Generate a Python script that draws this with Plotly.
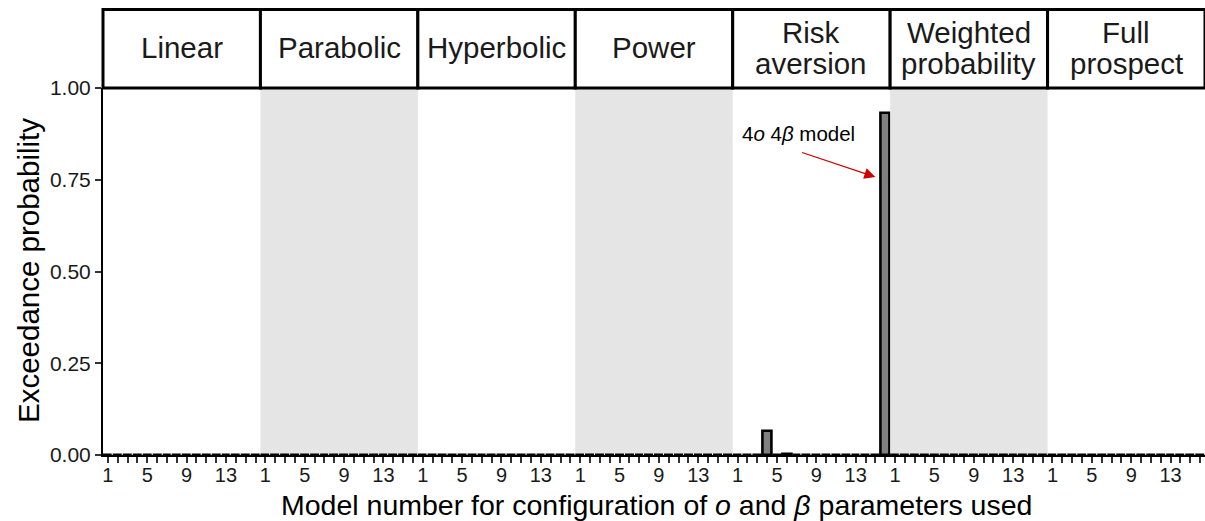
import plotly.graph_objects as go
from plotly.subplots import make_subplots

# Model families (facet panels) and the per-model exceedance probabilities
families = ["Linear", "Parabolic", "Hyperbolic", "Power", "Risk aversion",
            "Weighted probability", "Full prospect"]
strip_lines = [["Linear"], ["Parabolic"], ["Hyperbolic"], ["Power"],
               ["Risk", "aversion"], ["Weighted", "probability"], ["Full", "prospect"]]
models = list(range(1, 17))
zeros = [0.0] * 16
linear_p = zeros[:]
parabolic_p = zeros[:]
hyperbolic_p = zeros[:]
power_p = zeros[:]
risk_aversion_p = [0, 0, 0, 0.066, 0, 0.003, 0, 0, 0, 0, 0, 0, 0, 0, 0, 0.931]
weighted_p = zeros[:]
full_prospect_p = zeros[:]
series = [linear_p, parabolic_p, hyperbolic_p, power_p, risk_aversion_p,
          weighted_p, full_prospect_p]
shaded = [False, True, False, True, False, True, False]

tick_vals = models
tick_text = [str(m) if m in (1, 5, 9, 13) else "" for m in models]
y_ticks = [0, 0.25, 0.5, 0.75, 1.0]

W, H = 1205, 521
L, R, T, B = 103, 0, 88, 66
ph = H - T - B
FONT = "Liberation Sans, Arial, Helvetica, sans-serif"
TXT = "#1a1a1a"


def py(pix):
    return (H - B - pix) / ph


fig = make_subplots(rows=1, cols=7, shared_yaxes=True, horizontal_spacing=0)

for i, vals in enumerate(series):
    fig.add_trace(go.Bar(x=models, y=vals, width=0.9,
                         marker=dict(color="#808080", line=dict(color="black", width=2.6)),
                         showlegend=False, hoverinfo="x+y"), row=1, col=i + 1)
    fig.update_xaxes(range=[0.5, 16.5], tickmode="array", tickvals=tick_vals,
                     ticktext=tick_text, ticks="outside", ticklen=6, tickwidth=1.5,
                     tickcolor="#333", showline=True, linecolor="black", linewidth=2,
                     showgrid=False, zeroline=False, ticklabelstandoff=-5,
                     tickfont=dict(family=FONT, size=20, color=TXT),
                     row=1, col=i + 1)

fig.update_yaxes(range=[0, 1], tickvals=y_ticks, tickformat=".2f", showgrid=False,
                 zeroline=False, showline=False, ticks="", showticklabels=False)
fig.update_yaxes(showline=True, linecolor="black", linewidth=2, ticks="outside",
                 ticklen=6, tickwidth=1.5, tickcolor="#333", showticklabels=True,
                 tickfont=dict(family=FONT, size=21, color=TXT), row=1, col=1)

shapes = []
annotations = []
strip_top = py(9.5)
for i in range(7):
    xd = "x domain" if i == 0 else f"x{i + 1} domain"
    if shaded[i]:
        shapes.append(dict(type="rect", xref=xd, yref="y domain", x0=0, x1=1, y0=0, y1=1,
                           fillcolor="#e5e5e5", line=dict(width=0), layer="below"))
    shapes.append(dict(type="rect", xref=xd, yref="paper", x0=0, x1=1, y0=1, y1=strip_top,
                       fillcolor="white", line=dict(color="black", width=3)))
    lines = strip_lines[i]
    ys = [48] if len(lines) == 1 else [33, 63]
    for txt, ypix in zip(lines, ys):
        annotations.append(dict(text=txt, xref=xd, yref="paper", x=0.5, y=py(ypix),
                                xanchor="center", yanchor="middle", showarrow=False,
                                font=dict(family=FONT, size=29.5, color=TXT)))

# Axis titles
annotations.append(dict(text="Exceedance probability", xref="paper", yref="paper",
                        x=-(L - 28) / (W - L - R), y=py(271), textangle=-90,
                        xanchor="center", yanchor="middle", showarrow=False,
                        font=dict(family=FONT, size=29.5, color="black")))
annotations.append(dict(text="Model number for configuration of <i>o</i> and <i>β</i> parameters used",
                        xref="paper", yref="paper", x=(656 - L) / (W - L - R), y=py(505),
                        xanchor="center", yanchor="middle", showarrow=False,
                        font=dict(family=FONT, size=28.5, color="black")))

# Callout for the winning model in the risk-aversion family
annotations.append(dict(text="4<i>o</i> 4<i>β</i> model", xref="x5", yref="y",
                        x=7.2, y=py(133), xanchor="center", yanchor="middle",
                        showarrow=False, font=dict(family=FONT, size=20.5, color="black")))
annotations.append(dict(text="", xref="x5", yref="y", x=15.0, y=py(177),
                        axref="x5", ayref="y", ax=7.4, ay=py(152),
                        showarrow=True, arrowhead=2, arrowsize=1.7, arrowwidth=1.3,
                        arrowcolor="#cc0000", standoff=0, startstandoff=0))

fig.update_layout(width=W, height=H, margin=dict(l=L, r=R, t=T, b=B),
                  plot_bgcolor="white", paper_bgcolor="white", bargap=0,
                  shapes=shapes, annotations=annotations,
                  font=dict(family=FONT, color=TXT))

fig.write_html("out.html")
